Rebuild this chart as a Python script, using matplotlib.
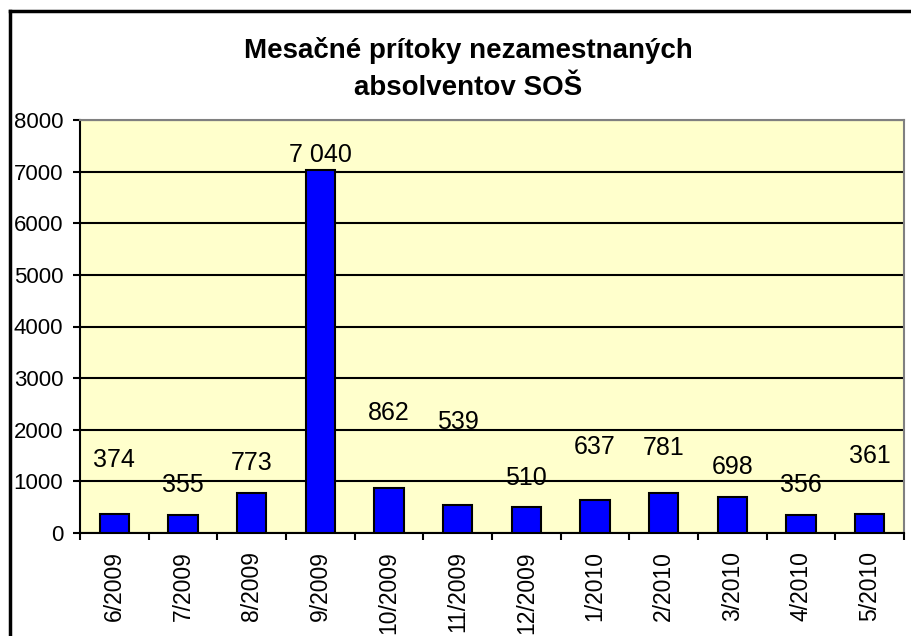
import matplotlib
matplotlib.use("Agg")
import matplotlib.pyplot as plt
from matplotlib.lines import Line2D
import numpy as np

plt.rcParams['font.family'] = ['Liberation Sans', 'DejaVu Sans']

categories = ["6/2009", "7/2009", "8/2009", "9/2009", "10/2009", "11/2009",
              "12/2009", "1/2010", "2/2010", "3/2010", "4/2010", "5/2010"]
values = [374, 355, 773, 7040, 862, 539, 510, 637, 781, 698, 356, 361]
title = "Mesačné prítoky nezamestnaných\nabsolventov SOŠ"
yticks = [0, 1000, 2000, 3000, 4000, 5000, 6000, 7000, 8000]

# layout: vertical placement of data labels (data units), as in the reference
label_y = [1415, 930, 1356, 7325, 2325, 2150, 1066, 1667, 1647, 1279, 930, 1492]

W, H = 911, 636
fig = plt.figure(figsize=(W / 100, H / 100), dpi=100)
ax = fig.add_axes([80 / W, 1 - 533 / H, (904 - 80) / W, (533 - 120) / H])
ax.set_facecolor('#FFFFCC')

x = np.arange(len(categories))
ax.bar(x, values, width=0.43, color='#0000FF', edgecolor='black', linewidth=1.5, zorder=3)

for xi, v, ly in zip(x, values, label_y):
    txt = f"{v:,}".replace(",", " ")
    ax.text(xi, ly, txt, ha='center', va='center', fontsize=18, color='black', zorder=4)

ax.set_xlim(-0.5, len(categories) - 0.5)
ax.set_ylim(0, 8000)
ax.set_yticks(yticks)
ax.set_yticklabels([str(t) for t in yticks], fontsize=16)
ax.yaxis.grid(True, color='black', linewidth=1.5, zorder=1)
ax.set_axisbelow(True)

ax.set_xticks(x)
ax.set_xticklabels(categories, rotation=90, fontsize=16.5)
ax.tick_params(axis='x', which='major', length=0, pad=13)
ax.set_xticks(np.arange(-0.5, len(categories), 1.0), minor=True)
ax.tick_params(axis='x', which='minor', length=5, width=1.5, direction='out')
ax.tick_params(axis='y', length=5, width=1.5, direction='out', pad=7)

for s in ['left', 'bottom']:
    ax.spines[s].set_color('black')
    ax.spines[s].set_linewidth(1.5)
for s in ['top', 'right']:
    ax.spines[s].set_color('#808080')
    ax.spines[s].set_linewidth(1.5)

fig.text(468 / W, 1 - 69 / H, title, ha='center', va='center', fontsize=20,
         fontweight='bold', linespacing=1.55)

# chart area border (left and top visible)
fig.add_artist(Line2D([9.5 / W, 9.5 / W], [0, 1 - 11 / H], color='black', linewidth=2.5,
                      transform=fig.transFigure))
fig.add_artist(Line2D([9.5 / W, 1], [1 - 11 / H, 1 - 11 / H], color='black', linewidth=2.5,
                      transform=fig.transFigure))

fig.savefig("out.png", dpi=100, facecolor='white')
